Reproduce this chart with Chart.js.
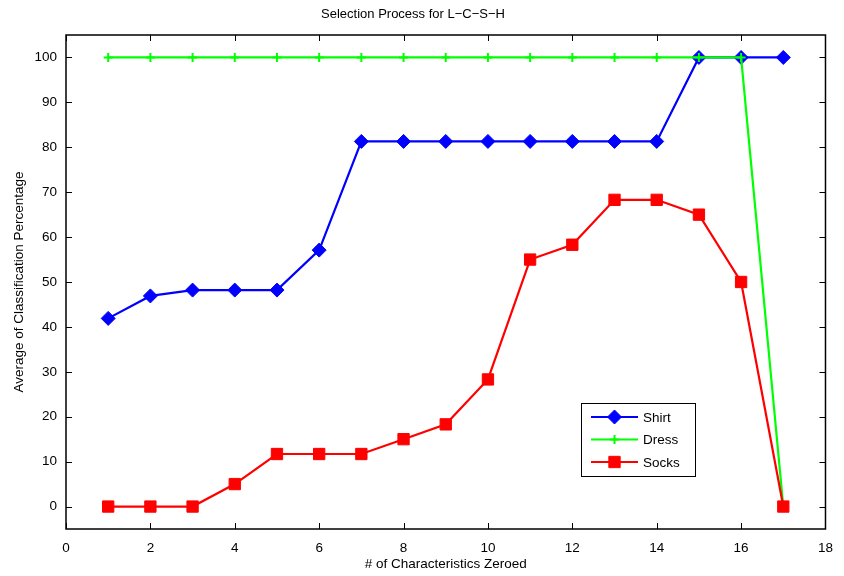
<!DOCTYPE html>
<html>
<head>
<meta charset="utf-8">
<script src="https://cdn.jsdelivr.net/npm/chart.js@4/dist/chart.umd.min.js"></script>
<style>
  html, body { margin: 0; padding: 0; background: #fff; }
  #wrap { width: 844px; height: 576px; }
</style>
</head>
<body>
<div id="wrap"><canvas id="c" width="844" height="576"></canvas></div>
<script>
// Number of characteristics zeroed
const zeroed = [1, 2, 3, 4, 5, 6, 7, 8, 9, 10, 11, 12, 13, 14, 15, 16, 17];
// Average classification percentage per garment
const shirt = [41.9, 46.9, 48.2, 48.2, 48.2, 57.1, 81.3, 81.3, 81.3, 81.3, 81.3, 81.3, 81.3, 81.3, 100, 100, 100];
const dress = [100, 100, 100, 100, 100, 100, 100, 100, 100, 100, 100, 100, 100, 100, 100, 100, 0];
const socks = [0, 0, 0, 5, 11.7, 11.7, 11.7, 15, 18.3, 28.3, 55, 58.3, 68.3, 68.3, 65, 50, 0];
const yTicks = [0, 10, 20, 30, 40, 50, 60, 70, 80, 90, 100];
const xTicks = [0, 2, 4, 6, 8, 10, 12, 14, 16, 18];

const FONT = 'Liberation Sans, Arial, Helvetica, sans-serif';

const pts = ys => zeroed.map((x, i) => ({ x: x, y: ys[i] }));

// Paints one marker with a dataset's own point styling
function legendMarker(ctx, ds, x, y) {
  ctx.save();
  ctx.fillStyle = ds.pointBackgroundColor;
  ctx.strokeStyle = ds.pointBorderColor;
  ctx.lineWidth = ds.pointBorderWidth || 1;
  Chart.helpers.drawPoint(ctx, { pointStyle: ds.pointStyle, radius: ds.pointRadius, borderWidth: ctx.lineWidth }, x, y);
  ctx.restore();
}

// Box frame, inward tick marks on all four sides, and the in-plot legend
const frameAndLegend = {
  id: 'frameAndLegend',
  afterDatasetsDraw(chart) {
    const { ctx, chartArea: a, scales } = chart;
    ctx.save();
    ctx.strokeStyle = '#000';
    ctx.lineWidth = 1;
    const tl = 6;
    ctx.beginPath();
    xTicks.forEach(v => {
      const px = Math.round(scales.x.getPixelForValue(v)) + 0.5;
      ctx.moveTo(px, a.bottom); ctx.lineTo(px, a.bottom - tl);
      ctx.moveTo(px, a.top); ctx.lineTo(px, a.top + tl);
    });
    yTicks.forEach(v => {
      const py = Math.round(scales.y.getPixelForValue(v)) + 0.5;
      ctx.moveTo(a.left, py); ctx.lineTo(a.left + tl, py);
      ctx.moveTo(a.right, py); ctx.lineTo(a.right - tl, py);
    });
    ctx.stroke();
    ctx.lineWidth = 1.5;
    ctx.strokeRect(a.left, a.top, a.right - a.left, a.bottom - a.top);

    // legend box inside the plot area
    const lx = 581, ly = 403, lw = 114, lh = 73;
    ctx.fillStyle = '#fff';
    ctx.fillRect(lx, ly, lw, lh);
    ctx.lineWidth = 1;
    ctx.strokeStyle = '#000';
    ctx.strokeRect(lx + 0.5, ly + 0.5, lw, lh);
    ctx.font = '13.5px ' + FONT;
    ctx.textBaseline = 'middle';
    chart.data.datasets.forEach((ds, i) => {
      const y = ly + 14 + i * 22.5;
      ctx.strokeStyle = ds.borderColor;
      ctx.lineWidth = 2.2;
      ctx.beginPath();
      ctx.moveTo(lx + 10, y); ctx.lineTo(lx + 57, y);
      ctx.stroke();
      legendMarker(ctx, ds, lx + 33.5, y);
      ctx.fillStyle = '#000';
      ctx.fillText(ds.label, lx + 62, y + 1);
    });
    ctx.restore();
  }
};

new Chart(document.getElementById('c'), {
  type: 'line',
  data: {
    datasets: [
      {
        label: 'Shirt', data: pts(shirt), order: 3,
        borderColor: '#0000ff', backgroundColor: '#0000ff',
        pointBackgroundColor: '#0000ff', pointBorderColor: '#0000ff',
        borderWidth: 2.2, pointStyle: 'rectRot', pointRadius: 7, pointBorderWidth: 1
      },
      {
        label: 'Dress', data: pts(dress), order: 2,
        borderColor: '#00ff00', backgroundColor: '#00ff00',
        pointBackgroundColor: '#00ff00', pointBorderColor: '#00ff00',
        borderWidth: 2.2, pointStyle: 'cross', pointRadius: 4.5, pointBorderWidth: 2
      },
      {
        label: 'Socks', data: pts(socks), order: 1,
        borderColor: '#ff0000', backgroundColor: '#ff0000',
        pointBackgroundColor: '#ff0000', pointBorderColor: '#ff0000',
        borderWidth: 2.2, pointStyle: 'rect', pointRadius: 8, pointBorderWidth: 1
      }
    ]
  },
  options: {
    responsive: false,
    animation: false,
    layout: { padding: { left: 0, right: 18, top: 0, bottom: 0 } },
    elements: { line: { tension: 0 } },
    plugins: {
      legend: { display: false },
      tooltip: { enabled: false },
      title: {
        display: true,
        text: 'Selection Process for L\u2212C\u2212S\u2212H',
        color: '#000',
        font: { family: FONT, size: 13, weight: 'normal' },
        padding: { top: 7, bottom: 12.4 }
      }
    },
    scales: {
      x: {
        type: 'linear', min: 0, max: 18,
        afterBuildTicks: s => { s.ticks = xTicks.map(v => ({ value: v })); },
        afterFit: s => { s.height = 47; },
        grid: { display: false, drawTicks: false },
        border: { display: false },
        ticks: { color: '#000', padding: 11, font: { family: FONT, size: 13.5 } },
        title: {
          display: true, text: '# of Characteristics Zeroed', color: '#000',
          font: { family: FONT, size: 13.5 }, padding: { top: 0, bottom: 4 }
        }
      },
      y: {
        type: 'linear', min: -5, max: 105,
        afterBuildTicks: s => { s.ticks = yTicks.map(v => ({ value: v })); },
        afterFit: s => { s.width = 66; },
        grid: { display: false, drawTicks: false },
        border: { display: false },
        ticks: { color: '#000', padding: 9, font: { family: FONT, size: 13.5 } },
        title: {
          display: true, text: 'Average of Classification Percentage', color: '#000',
          font: { family: FONT, size: 13.5 }, padding: { top: 11, bottom: 0 }
        }
      }
    }
  },
  plugins: [frameAndLegend]
});
</script>
</body>
</html>
